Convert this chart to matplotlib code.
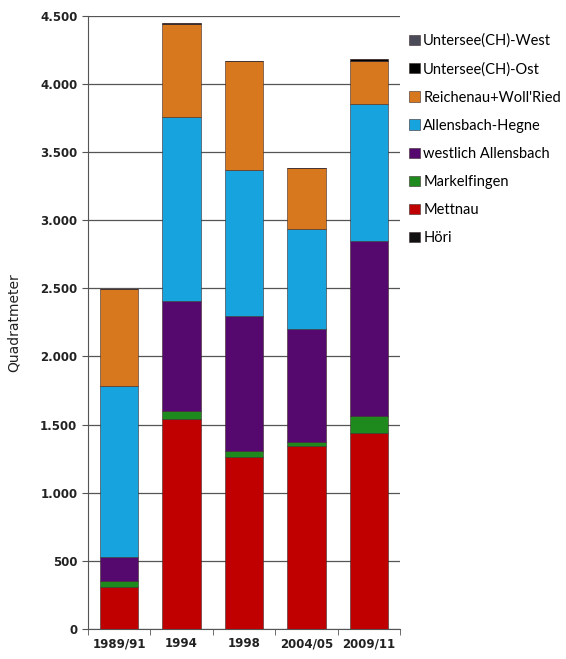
import numpy as np
import matplotlib
matplotlib.use('Agg')
import matplotlib.pyplot as plt
from matplotlib.ticker import FuncFormatter, FixedLocator

# Periods on the x axis
periods = ['1989/91', '1994', '1998', '2004/05', '2009/11']

# Stacked areas (square metres), bottom to top
hoeri = [0, 0, 0, 0, 0]
mettnau = [310, 1540, 1260, 1345, 1440]
markelfingen = [40, 60, 50, 30, 120]
westl_allensbach = [175, 810, 985, 830, 1290]
allensbach_hegne = [1260, 1350, 1075, 730, 1000]
reichenau = [710, 680, 800, 445, 320]
untersee_ost = [0, 5, 0, 0, 10]
untersee_west = [0, 0, 0, 0, 0]

series = [
    ('Höri', hoeri, '#111111'),
    ('Mettnau', mettnau, '#C00000'),
    ('Markelfingen', markelfingen, '#1E8A1E'),
    ('westlich Allensbach', westl_allensbach, '#55096E'),
    ('Allensbach-Hegne', allensbach_hegne, '#16A3DE'),
    ("Reichenau+Woll'Ried", reichenau, '#D8781E'),
    ('Untersee(CH)-Ost', untersee_ost, '#000000'),
    ('Untersee(CH)-West', untersee_west, '#4A4A58'),
]

fig = plt.figure(figsize=(5.66, 6.59), dpi=100)
ax = fig.add_axes([0.155, 0.0455, 0.552, 0.9305])

x = np.arange(len(periods))
bottom = np.zeros(len(periods))
handles = []
for name, vals, color in series:
    b = ax.bar(x, vals, 0.62, bottom=bottom, color=color, label=name,
               edgecolor='#3a2a2a', linewidth=0.4, zorder=3)
    handles.append(b)
    bottom += np.array(vals)

ax.set_ylim(0, 4500)
ax.set_xlim(-0.5, len(periods) - 0.5)
ax.set_yticks(np.arange(0, 4501, 500))
ax.yaxis.set_major_formatter(FuncFormatter(lambda v, p: f'{int(v):,}'.replace(',', '.')))
ax.grid(axis='y', color='#555555', linewidth=0.9, zorder=0)
ax.set_xticks(x)
ax.set_xticklabels(periods)
ax.xaxis.set_minor_locator(FixedLocator(np.arange(-0.5, len(periods), 1)))
ax.tick_params(axis='x', which='major', length=0, pad=6)
ax.tick_params(axis='x', which='minor', length=4, color='#555555')
ax.tick_params(axis='y', length=4, color='#555555')
for lab in ax.get_xticklabels() + ax.get_yticklabels():
    lab.set_fontweight('bold')
    lab.set_fontsize(8.5)
    lab.set_color('#222222')

for s in ['top', 'right']:
    ax.spines[s].set_visible(False)
ax.spines['left'].set_color('#555555')
ax.spines['bottom'].set_color('#555555')

ax.set_ylabel('Quadratmeter', fontsize=10, color='#222222', labelpad=14)

leg = fig.legend(handles[::-1], [s[0] for s in series][::-1],
                 loc='upper left', bbox_to_anchor=(0.70, 0.969),
                 frameon=False, handlelength=0.7,
                 handleheight=0.7, handletextpad=0.25, labelspacing=0.97,
                 prop={'family': 'Lato', 'size': 10.5})

plt.savefig('out.png', dpi=100)
